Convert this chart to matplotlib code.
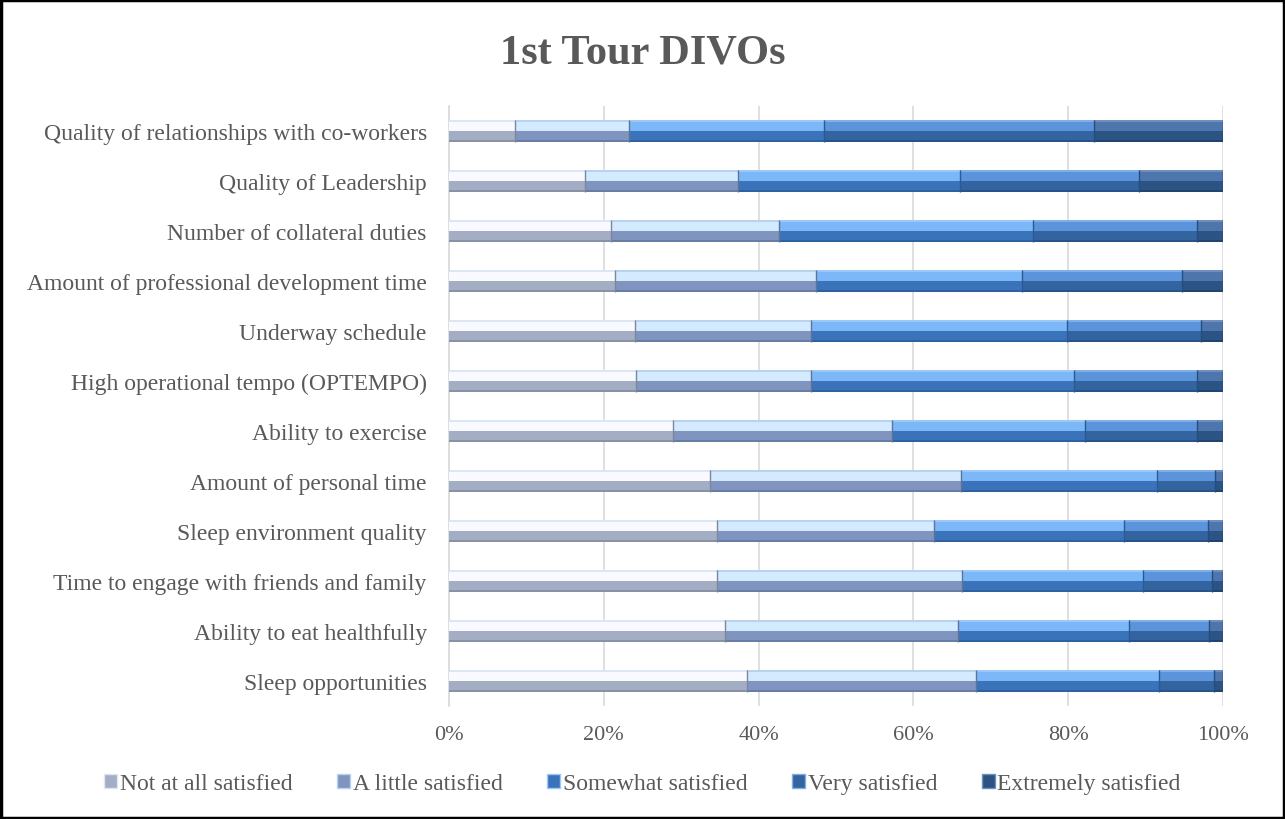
import matplotlib
matplotlib.use("Agg")
import matplotlib.pyplot as plt
import numpy as np
from matplotlib.patches import Rectangle

categories = [
    "Quality of relationships with co-workers",
    "Quality of Leadership",
    "Number of collateral duties",
    "Amount of professional development time",
    "Underway schedule",
    "High operational tempo (OPTEMPO)",
    "Ability to exercise",
    "Amount of personal time",
    "Sleep environment quality",
    "Time to engage with friends and family",
    "Ability to eat healthfully",
    "Sleep opportunities",
]
series_names = ["Not at all satisfied", "A little satisfied", "Somewhat satisfied",
                "Very satisfied", "Extremely satisfied"]
not_at_all = [8.5, 17.6, 20.9, 21.5, 24.0, 24.2, 29.0, 33.7, 34.6, 34.6, 35.7, 38.5]
a_little   = [14.8, 19.7, 21.8, 25.9, 22.8, 22.6, 28.2, 32.5, 28.0, 31.7, 30.1, 29.6]
somewhat   = [25.2, 28.7, 32.8, 26.6, 33.0, 34.0, 25.0, 25.3, 24.6, 23.4, 22.1, 23.6]
very       = [34.8, 23.1, 21.2, 20.7, 17.3, 15.8, 14.4, 7.5, 10.8, 8.9, 10.3, 7.2]
extremely  = [16.7, 10.9, 3.3, 5.3, 2.9, 3.4, 3.4, 1.0, 2.0, 1.4, 1.8, 1.1]
xtick_labels = ["0%", "20%", "40%", "60%", "80%", "100%"]
title = "1st Tour DIVOs"

series = [not_at_all, a_little, somewhat, very, extremely]
bottom_colors = ["#a3adc4", "#7f95bf", "#3b73ba", "#33649f", "#2b5485"]
top_colors = ["#f8faff", "#d4eaff", "#7cb8f8", "#5c94dc", "#4f76ac"]
topedge_colors = ["#dde6f5", "#b9d2f0", "#9cc8f8", "#80aee6", "#6f8fbf"]
dark_colors = ["#7d879c", "#5e7399", "#2a5a95", "#244d80", "#1e3e66"]

plt.rcParams['font.family'] = ['Liberation Serif', 'DejaVu Serif']
gray = "#595959"

fig = plt.figure(figsize=(12.85, 8.2), dpi=100)
ax = fig.add_axes([449/1285, 1-707/820, 774/1285, 600/820])

y = np.arange(len(categories))
h = 0.43
left = np.zeros(len(categories))
totals = np.array([sum(s[j] for s in series) for j in range(len(categories))], dtype=float)
for i, vals in enumerate(series):
    v = np.array(vals, dtype=float) / totals * 100
    # base (lower, darker half)
    ax.barh(y, v, left=left, height=h, color=bottom_colors[i], linewidth=0, zorder=3)
    # lighter upper half
    ax.barh(y - h*0.24, v, left=left, height=h*0.52, color=top_colors[i],
            linewidth=0, zorder=4)
    # thin top edge
    ax.barh(y - h*0.47, v, left=left, height=h*0.06, color=topedge_colors[i],
            linewidth=0, zorder=5)
    # darker bottom edge
    ax.barh(y + h*0.45, v, left=left, height=h*0.10, color=dark_colors[i],
            linewidth=0, zorder=5, alpha=0.7)
    # segment separators
    ax.barh(y, v, left=left, height=h, color='none',
            edgecolor=dark_colors[i], linewidth=0.0, zorder=6)
    ax.vlines(left + v, y - h/2, y + h/2, colors=dark_colors[i], linewidth=1.0, zorder=6)
    left += v

ax.set_xlim(0, 100)
ax.set_ylim(len(categories) - 0.5, -0.5)
ax.set_yticks(y)
ax.set_yticklabels(categories, fontsize=17, color=gray)
ax.set_xticks([0, 20, 40, 60, 80, 100])
ax.set_xticklabels(xtick_labels, fontsize=16, color=gray)
ax.tick_params(axis='both', length=0)
ax.tick_params(axis='y', pad=16)
ax.tick_params(axis='x', pad=14)
ax.grid(axis='x', color='#d9d9d9', linewidth=1.2, zorder=0)
ax.set_axisbelow(True)
for s in ['top', 'right', 'bottom']:
    ax.spines[s].set_visible(False)
ax.spines['left'].set_color('#d9d9d9')
ax.spines['left'].set_linewidth(1.2)

fig.text(0.5, 1-53/820, title, ha='center', va='center', fontsize=30.5,
         fontweight='bold', color=gray)

handles = [Rectangle((0, 0), 1, 1, facecolor=bottom_colors[i], edgecolor=topedge_colors[i],
                     linewidth=1) for i in range(5)]
leg = fig.legend(handles, series_names, loc='center', bbox_to_anchor=(0.5, 1-785/820),
                 ncol=5, frameon=False, fontsize=17, handlelength=0.55, handleheight=0.55,
                 handletextpad=0.1, columnspacing=1.9)
for t in leg.get_texts():
    t.set_color(gray)

fig.patches.append(Rectangle((0.001, 0.001), 0.998, 0.998, transform=fig.transFigure,
                             fill=False, edgecolor='black', linewidth=2.5))

fig.savefig("out.png", dpi=100)
